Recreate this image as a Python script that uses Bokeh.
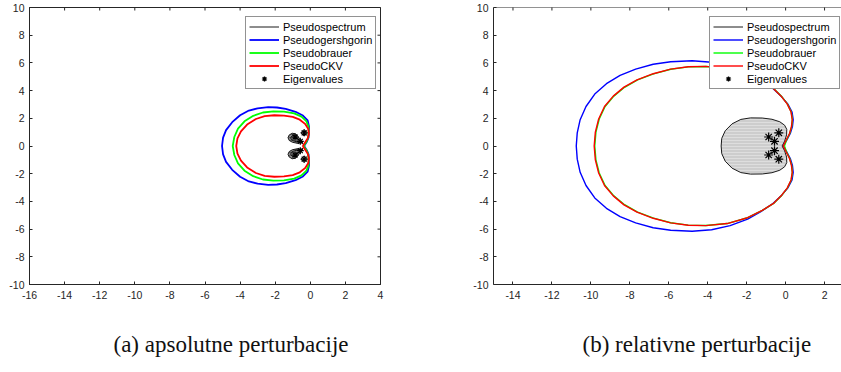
import math
from bokeh.plotting import figure
from bokeh.models import Range1d, FixedTicker, Legend, LegendItem, Title, Span
from bokeh.layouts import row
from bokeh.embed import file_html
from bokeh.resources import INLINE

# ---------------- data ----------------
abs_x_ticks = [-16, -14, -12, -10, -8, -6, -4, -2, 0, 2, 4]
rel_x_ticks = [-14, -12, -10, -8, -6, -4, -2, 0, 2]
y_ticks = [-10, -8, -6, -4, -2, 0, 2, 4, 6, 8, 10]
abs_x_labels = ["-16", "-14", "-12", "-10", "-8", "-6", "-4", "-2", "0", "2", "4"]
rel_x_labels = ["-14", "-12", "-10", "-8", "-6", "-4", "-2", "0", "2"]
y_labels = ["-10", "-8", "-6", "-4", "-2", "0", "2", "4", "6", "8", "10"]

series_names = ["Pseudospectrum", "Pseudogershgorin", "Pseudobrauer", "PseudoCKV", "Eigenvalues"]
captions = ["(a) apsolutne perturbacije", "(b) relativne perturbacije"]

eig_x = [-0.35, -0.87, -0.57, -0.57, -0.87, -0.35]
eig_y = [0.95, 0.65, 0.34, -0.34, -0.65, -0.95]

# (a) absolute perturbations
abs_gersh_x = [-0.35, -0.2, -0.1, -0.08, -0.07, -0.15, -0.42, -0.84, -1.4, -1.9, -2.4, -3.0, -3.5, -4.0, -4.45, -4.8, -4.97, -5.03,
               -4.97, -4.8, -4.45, -4.0, -3.5, -3.0, -2.4, -1.9, -1.4, -0.84, -0.42, -0.15, -0.07, -0.08, -0.1, -0.2, -0.35]
abs_gersh_y = [0.0, 0.3, 0.6, 1.0, 1.4, 1.85, 2.2, 2.47, 2.68, 2.78, 2.8, 2.72, 2.56, 2.22, 1.72, 1.15, 0.6, 0.0,
               -0.6, -1.15, -1.72, -2.22, -2.56, -2.72, -2.8, -2.78, -2.68, -2.47, -2.2, -1.85, -1.4, -1.0, -0.6, -0.3, 0.0]

abs_brauer_x = [-0.38, -0.22, -0.12, -0.09, -0.1, -0.23, -0.5, -0.92, -1.5, -2.1, -2.7, -3.25, -3.75, -4.12, -4.33, -4.42,
                -4.33, -4.12, -3.75, -3.25, -2.7, -2.1, -1.5, -0.92, -0.5, -0.23, -0.1, -0.09, -0.12, -0.22, -0.38]
abs_brauer_y = [0.0, 0.3, 0.6, 1.0, 1.4, 1.8, 2.12, 2.36, 2.48, 2.5, 2.42, 2.18, 1.78, 1.25, 0.65, 0.0,
                -0.65, -1.25, -1.78, -2.18, -2.42, -2.5, -2.48, -2.36, -2.12, -1.8, -1.4, -1.0, -0.6, -0.3, 0.0]

abs_ckv_x = [-0.43, -0.3, -0.15, -0.08, -0.12, -0.3, -0.6, -1.0, -1.5, -2.05, -2.6, -3.1, -3.6, -3.95, -4.15, -4.22,
             -4.15, -3.95, -3.6, -3.1, -2.6, -2.05, -1.5, -1.0, -0.6, -0.3, -0.12, -0.08, -0.15, -0.3, -0.43]
abs_ckv_y = [0.0, 0.25, 0.55, 0.88, 1.25, 1.6, 1.9, 2.1, 2.2, 2.22, 2.15, 1.95, 1.55, 1.05, 0.55, 0.0,
             -0.55, -1.05, -1.55, -1.95, -2.15, -2.22, -2.2, -2.1, -1.9, -1.6, -1.25, -0.88, -0.55, -0.25, 0.0]

# pseudospectrum contours for (a): outer/inner tear shapes and small rings
abs_ps_xs = [
    [-0.42, -0.58, -0.7, -0.84, -1.03, -1.2, -1.27, -1.2, -1.02, -0.75, -0.42],
    [-0.42, -0.58, -0.7, -0.84, -1.03, -1.2, -1.27, -1.2, -1.02, -0.75, -0.42],
    [-0.55, -0.7, -0.85, -1.0, -1.12, -1.07, -0.9, -0.7, -0.55],
    [-0.55, -0.7, -0.85, -1.0, -1.12, -1.07, -0.9, -0.7, -0.55],
    [-0.18, -0.26, -0.35, -0.44, -0.52, -0.44, -0.35, -0.26, -0.18],
    [-0.18, -0.26, -0.35, -0.44, -0.52, -0.44, -0.35, -0.26, -0.18],
]
abs_ps_ys = [
    [0.24, 0.44, 0.7, 0.88, 0.92, 0.8, 0.6, 0.4, 0.27, 0.2, 0.24],
    [-0.24, -0.44, -0.7, -0.88, -0.92, -0.8, -0.6, -0.4, -0.27, -0.2, -0.24],
    [0.33, 0.5, 0.72, 0.78, 0.6, 0.44, 0.34, 0.28, 0.33],
    [-0.33, -0.5, -0.72, -0.78, -0.6, -0.44, -0.34, -0.28, -0.33],
    [0.95, 1.1, 1.16, 1.1, 0.95, 0.8, 0.74, 0.8, 0.95],
    [-0.95, -1.1, -1.16, -1.1, -0.95, -0.8, -0.74, -0.8, -0.95],
]

# (b) relative perturbations
rel_gersh_x = [-0.12, 0.05, 0.24, 0.35, 0.39, 0.33, 0.13, -0.2, -0.65, -1.25, -1.95, -2.85, -3.8, -4.8, -5.9, -6.8, -7.7, -8.5, -9.2, -9.8, -10.25, -10.55, -10.7, -10.75,
               -10.7, -10.55, -10.25, -9.8, -9.2, -8.5, -7.7, -6.8, -5.9, -4.8, -3.8, -2.85, -1.95, -1.25, -0.65, -0.2, 0.13, 0.33, 0.39, 0.35, 0.24, 0.05, -0.12]
rel_gersh_y = [0.0, 0.4, 0.9, 1.4, 1.9, 2.45, 3.0, 3.55, 4.15, 4.72, 5.28, 5.75, 6.05, 6.16, 6.08, 5.9, 5.55, 5.1, 4.5, 3.75, 2.85, 1.9, 0.95, 0.0,
               -0.95, -1.9, -2.85, -3.75, -4.5, -5.1, -5.55, -5.9, -6.08, -6.16, -6.05, -5.75, -5.28, -4.72, -4.15, -3.55, -3.0, -2.45, -1.9, -1.4, -0.9, -0.4, 0.0]

rel_brauer_x = [-0.06, 0.04, 0.21, 0.31, 0.35, 0.29, 0.09, -0.19, -0.59, -1.2, -2.0, -3.0, -4.1, -5.0, -5.9, -6.78, -7.6, -8.27, -8.82, -9.27, -9.57, -9.74, -9.8,
                -9.74, -9.57, -9.27, -8.82, -8.27, -7.6, -6.78, -5.9, -5.0, -4.1, -3.0, -2.0, -1.2, -0.59, -0.19, 0.09, 0.29, 0.35, 0.31, 0.21, 0.04, -0.06]
rel_brauer_y = [0.0, 0.4, 0.9, 1.4, 1.9, 2.45, 3.04, 3.55, 4.12, 4.65, 5.2, 5.6, 5.74, 5.71, 5.54, 5.21, 4.77, 4.24, 3.6, 2.85, 1.95, 1.0, 0.0,
                -1.0, -1.95, -2.85, -3.6, -4.24, -4.77, -5.21, -5.54, -5.71, -5.74, -5.6, -5.2, -4.65, -4.12, -3.55, -3.04, -2.45, -1.9, -1.4, -0.9, -0.4, 0.0]

rel_ckv_x = [-0.12, 0.02, 0.2, 0.3, 0.34, 0.28, 0.08, -0.2, -0.6, -1.2, -2.0, -3.0, -4.1, -5.0, -5.9, -6.8, -7.63, -8.3, -8.85, -9.3, -9.6, -9.77, -9.83,
             -9.77, -9.6, -9.3, -8.85, -8.3, -7.63, -6.8, -5.9, -5.0, -4.1, -3.0, -2.0, -1.2, -0.6, -0.2, 0.08, 0.28, 0.34, 0.3, 0.2, 0.02, -0.12]
rel_ckv_y = [0.0, 0.4, 0.9, 1.4, 1.9, 2.45, 3.04, 3.55, 4.12, 4.65, 5.2, 5.6, 5.75, 5.72, 5.55, 5.22, 4.78, 4.25, 3.6, 2.85, 1.95, 1.0, 0.0,
             -1.0, -1.95, -2.85, -3.6, -4.25, -4.78, -5.22, -5.55, -5.72, -5.75, -5.6, -5.2, -4.65, -4.12, -3.55, -3.04, -2.45, -1.9, -1.4, -0.9, -0.4, 0.0]

rel_ps_x = [-0.18, -0.05, 0.05, 0.06, -0.05, -0.3, -0.7, -1.2, -1.8, -2.3, -2.75, -3.1, -3.28, -3.31,
            -3.28, -3.1, -2.75, -2.3, -1.8, -1.2, -0.7, -0.3, -0.05, 0.06, 0.05, -0.05, -0.18]
rel_ps_y = [0.0, 0.35, 0.8, 1.2, 1.5, 1.75, 1.93, 2.02, 2.03, 1.92, 1.6, 1.1, 0.55, 0.0,
            -0.55, -1.1, -1.6, -1.92, -2.03, -2.02, -1.93, -1.75, -1.5, -1.2, -0.8, -0.35, 0.0]

# ---------------- styling ----------------
AXC = "#262626"
TICK_FONT = "Liberation Sans"
COLORS = {"ps": "#1a1a1a", "gersh": "#0000ff", "brauer": "#00ff00", "ckv": "#ff0000"}


def style_axis(ax, ticks, labels, standoff):
    ax.ticker = FixedTicker(ticks=ticks)
    ax.major_label_overrides = {t: l for t, l in zip(ticks, labels)}
    ax.axis_line_color = AXC
    ax.axis_line_width = 1
    ax.major_tick_line_color = AXC
    ax.major_tick_in = 3
    ax.major_tick_out = 0
    ax.minor_tick_in = 0
    ax.minor_tick_out = 0
    ax.major_label_text_font = TICK_FONT
    ax.major_label_text_color = AXC
    ax.major_label_standoff = standoff
    ax.major_label_text_font_size = "10.5px"


def make_fig(xr, xticks, xlabels, frame_w, min_left, min_right, caption, cap_x):
    p = figure(x_range=Range1d(*xr), y_range=Range1d(-10, 10),
               frame_width=frame_w, frame_height=277,
               min_border_left=min_left, min_border_right=min_right,
               min_border_top=7, min_border_bottom=88,
               toolbar_location=None, output_backend="svg")
    p.grid.visible = False
    p.background_fill_color = "white"
    p.border_fill_color = "white"
    style_axis(p.xaxis[0], xticks, xlabels, 6)
    style_axis(p.yaxis[0], y_ticks, y_labels, 5)
    # mirrored inward ticks on the top edge
    p.scatter(x=xticks, y=[p.y_range.end] * len(xticks), marker="dash", angle=math.pi / 2,
              size=6, line_color=AXC, line_width=1)
    p.add_layout(Title(text=caption, align="left", offset=cap_x, standoff=57,
                       text_font="Liberation Serif", text_font_size="23px",
                       text_font_style="normal", text_color="#111111"), "below")
    return p


def add_legend(p, renderers, loc):
    items = [LegendItem(label=n, renderers=[r]) for n, r in zip(series_names, renderers)]
    leg = Legend(items=items, location=loc, margin=0, padding=3, spacing=0,
                 glyph_width=30, glyph_height=13, label_height=13, label_standoff=4,
                 label_text_font=TICK_FONT, label_text_font_size="11px", label_text_color="#000000",
                 border_line_color=AXC, border_line_width=1, background_fill_color="white",
                 background_fill_alpha=1.0)
    p.add_layout(leg)


# ---------------- (a) ----------------
p1 = make_fig((-16, 4), abs_x_ticks, abs_x_labels, 351, 29, 40, captions[0], 84)
p1.outline_line_color = AXC
p1.outline_line_width = 1
p1.scatter(x=[p1.x_range.end] * len(y_ticks), y=y_ticks, marker="dash", size=6,
           line_color=AXC, line_width=1)
p1.patches(xs=abs_ps_xs[:2], ys=abs_ps_ys[:2], fill_color="#8c8c8c", line_color=None,
           hatch_pattern="horizontal_line", hatch_color="#444444", hatch_scale=3, hatch_weight=0.6)
r1_ps = p1.multi_line(xs=abs_ps_xs, ys=abs_ps_ys, line_color=COLORS["ps"], line_width=1)
r1_g = p1.line(abs_gersh_x, abs_gersh_y, line_color=COLORS["gersh"], line_width=1.8)
r1_b = p1.line(abs_brauer_x, abs_brauer_y, line_color=COLORS["brauer"], line_width=1.8)
r1_c = p1.line(abs_ckv_x, abs_ckv_y, line_color=COLORS["ckv"], line_width=1.8)
r1_e = p1.scatter(eig_x, eig_y, marker="asterisk", size=7, line_color="black", line_width=1.2)
add_legend(p1, [r1_ps, r1_g, r1_b, r1_c, r1_e], (216, 195))

# ---------------- (b) ----------------
p2 = make_fig((-15, 2.87), rel_x_ticks, rel_x_labels, 348, 73, 0, captions[1], 89)
p2.outline_line_color = None
p2.add_layout(Span(location=p2.y_range.end, dimension="width", line_color=AXC, line_width=1))
p2.patch(rel_ps_x, rel_ps_y, fill_color="#cdcdcd", line_color=None,
         hatch_pattern="horizontal_line", hatch_color="#dedede", hatch_scale=3, hatch_weight=1)
r2_ps = p2.line(rel_ps_x, rel_ps_y, line_color=COLORS["ps"], line_width=1)
r2_g = p2.line(rel_gersh_x, rel_gersh_y, line_color=COLORS["gersh"], line_width=1.4)
r2_b = p2.line(rel_brauer_x, rel_brauer_y, line_color=COLORS["brauer"], line_width=1.4)
r2_c = p2.line(rel_ckv_x, rel_ckv_y, line_color=COLORS["ckv"], line_width=1.4)
r2_e = p2.scatter(eig_x, eig_y, marker="asterisk", size=9, line_color="black", line_width=1.2)
add_legend(p2, [r2_ps, r2_g, r2_b, r2_c, r2_e], (216, 195))

layout = row(p1, p2, spacing=0)

open("out.html", "w").write(file_html(layout, INLINE))
